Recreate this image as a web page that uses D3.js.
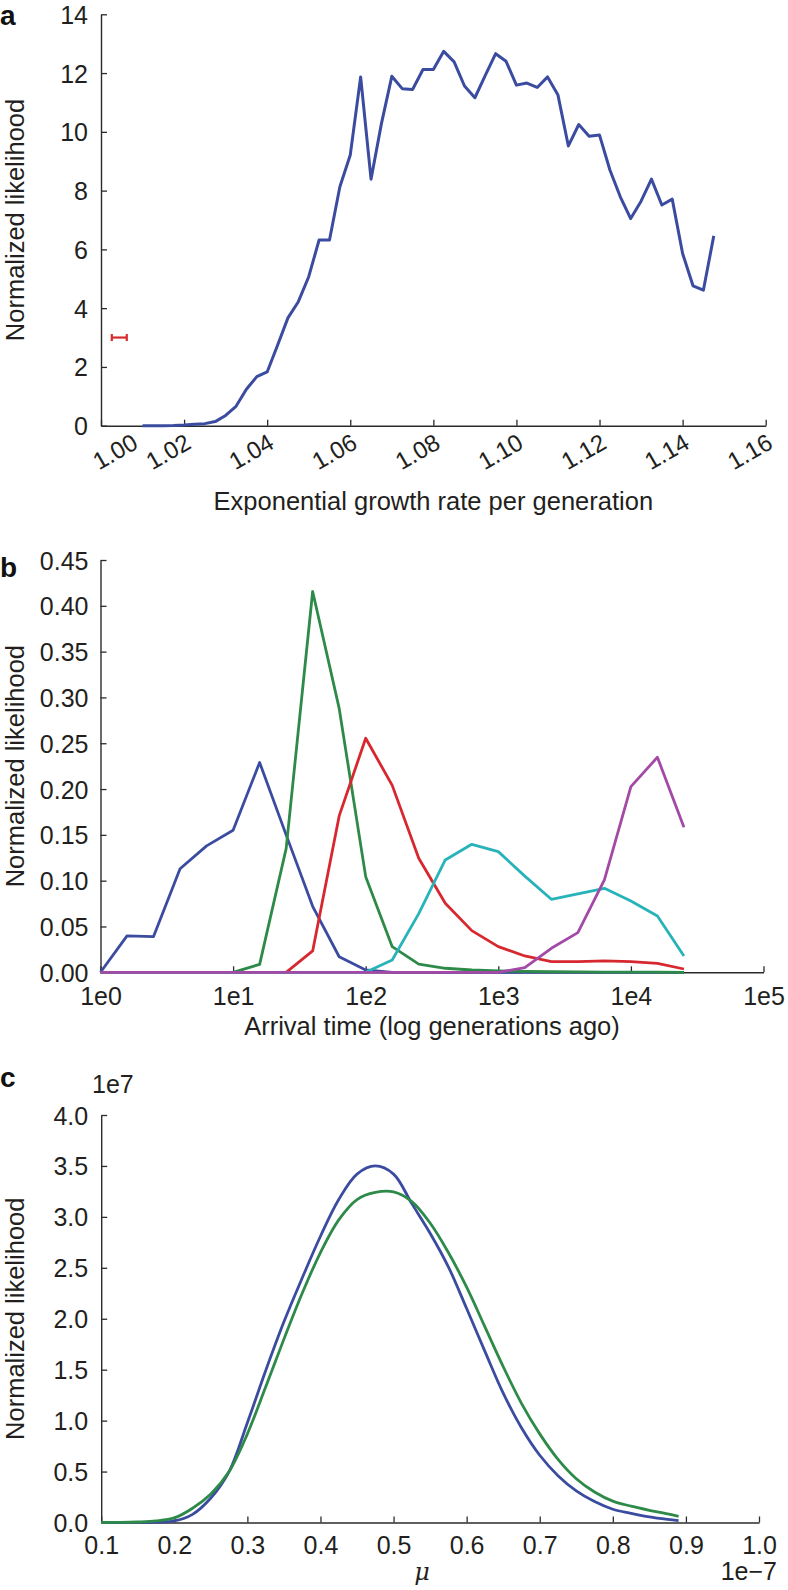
<!DOCTYPE html>
<html><head><meta charset="utf-8">
<script src="https://cdn.jsdelivr.net/npm/d3@7"></script>
<style>
body{margin:0;background:#fff;}
svg{display:block;font-family:"Liberation Sans",Arial,Helvetica,sans-serif;}
</style></head>
<body><svg id="c" width="788" height="1590"></svg>
<script>
// ---------- Panel a data ----------
const growthRate = [1.0100,1.0125,1.0150,1.0175,1.0200,1.0225,1.0250,1.0275,1.0300,1.0325,1.0350,1.0375,1.0400,1.0425,1.0450,1.0475,1.0500,1.0525,1.0550,1.0575,1.0600,1.0625,1.0650,1.0675,1.0700,1.0725,1.0750,1.0775,1.0800,1.0825,1.0850,1.0875,1.0900,1.0925,1.0950,1.0975,1.1000,1.1025,1.1050,1.1075,1.1100,1.1125,1.1150,1.1175,1.1200,1.1225,1.1250,1.1275,1.1300,1.1325,1.1350,1.1375,1.1400,1.1425,1.1450,1.1475];
const growthLikelihood = [0,0,0,0.005,0.02,0.05,0.07,0.14,0.35,0.66,1.24,1.67,1.83,2.74,3.67,4.22,5.07,6.32,6.32,8.13,9.21,11.87,8.39,10.28,11.89,11.47,11.44,12.12,12.12,12.74,12.38,11.56,11.16,11.92,12.66,12.40,11.59,11.66,11.51,11.87,11.25,9.52,10.25,9.85,9.89,8.70,7.79,7.05,7.64,8.39,7.51,7.71,5.86,4.76,4.61,6.46];
const errorBarX = [1.0026, 1.0062];
const errorBarY = 3.0;
const growthTicks = [1.00,1.02,1.04,1.06,1.08,1.10,1.12,1.14,1.16];
const likTicksA = [0,2,4,6,8,10,12,14];

// ---------- Panel b data ----------
const arrivalTime = [1,1.585,2.512,3.981,6.310,10,15.85,25.12,39.81,63.10,100,158.5,251.2,398.1,631.0,1000,1585,2512,3981,6310,10000,15850,25120];
const seriesBlue   = [0,0.0397,0.039,0.113,0.138,0.155,0.229,0.150,0.072,0.017,0.0025,0,0,0,0,0,0,0,0,0,0,0,0];
const seriesGreen  = [0,0,0,0,0,0,0.0087,0.135,0.4156,0.288,0.1044,0.028,0.009,0.0044,0.0025,0.0015,0.001,0.0006,0.0004,0.0003,0.0002,0.0001,0];
const seriesRed    = [0,0,0,0,0,0,0,0,0.0233,0.1707,0.2555,0.204,0.1245,0.0753,0.0455,0.028,0.0178,0.0116,0.0116,0.0124,0.0116,0.0098,0.0036];
const seriesCyan   = [0,0,0,0,0,0,0,0,0,0,0,0.0135,0.064,0.1226,0.1397,0.1317,0.105,0.0797,0.0855,0.0917,0.0779,0.0615,0.0178];
const seriesPurple = [0,0,0,0,0,0,0,0,0,0,0,0,0,0,0,0,0.005,0.0262,0.0433,0.1008,0.2027,0.2347,0.1583];
const arrivalTicks = [1,10,100,1000,10000,100000];
const arrivalTickLabels = ["1e0","1e1","1e2","1e3","1e4","1e5"];
const likTicksB = [0,0.05,0.10,0.15,0.20,0.25,0.30,0.35,0.40,0.45];

// ---------- Panel c data (x in 1e-7, y in 1e7) ----------
const mu = [0.100,0.125,0.150,0.175,0.200,0.225,0.250,0.275,0.300,0.325,0.350,0.375,0.400,0.425,0.450,0.475,0.500,0.525,0.550,0.575,0.600,0.625,0.650,0.675,0.700,0.725,0.750,0.775,0.800,0.825,0.850,0.875,0.890];
const muBlue  = [0,0,0.001,0.004,0.015,0.08,0.24,0.50,0.98,1.49,1.97,2.40,2.81,3.17,3.42,3.50,3.42,3.13,2.84,2.51,2.10,1.68,1.27,0.93,0.66,0.46,0.31,0.205,0.13,0.09,0.055,0.03,0.018];
const muGreen = [0,0.001,0.005,0.015,0.045,0.14,0.28,0.50,0.87,1.33,1.80,2.25,2.65,2.97,3.17,3.24,3.245,3.15,2.94,2.65,2.31,1.92,1.53,1.17,0.87,0.62,0.43,0.30,0.21,0.16,0.12,0.085,0.06];
const muTicks = [0.1,0.2,0.3,0.4,0.5,0.6,0.7,0.8,0.9,1.0];
const likTicksC = [0,0.5,1.0,1.5,2.0,2.5,3.0,3.5,4.0];

// ---------- styles ----------
const C = {blue:"#3b4ca0", green:"#2e8a48", red:"#d7282f", cyan:"#28b3ba", purple:"#a24aa6", axis:"#2b2b2b", text:"#231f20"};
const tickFont = 25, labelFont = 25.5, letterFont = 28;

const svg = d3.select("#c");

function styleAxis(g){
  g.select(".domain").attr("stroke", C.axis).attr("stroke-width", 1.4);
  g.selectAll(".tick line").attr("stroke", C.axis).attr("stroke-width", 1.3);
  g.selectAll(".tick text").attr("fill", C.text).style("font-size", tickFont+"px");
}
function yLabel(cy, txt){
  svg.append("text").attr("transform", `translate(24,${cy}) rotate(-90)`)
    .attr("text-anchor","middle").attr("fill",C.text).style("font-size",labelFont+"px").text(txt);
}
function letter(x,y,t){
  svg.append("text").attr("x",x).attr("y",y).attr("fill","#111").style("font-size",letterFont+"px").style("font-weight","bold").text(t);
}

// ================= Panel a =================
{
  const x = d3.scaleLinear().domain([1.00,1.16]).range([101,765.7]);
  const y = d3.scaleLinear().domain([0,14]).range([425.7,14.3]);
  const gx = svg.append("g").attr("transform",`translate(0,${y(0)})`)
    .call(d3.axisBottom(x).tickValues(growthTicks).tickFormat(d3.format(".2f")).tickSizeInner(-6).tickSizeOuter(0));
  styleAxis(gx);
  gx.selectAll(".tick text").attr("text-anchor","end").attr("x",0).attr("y",0).attr("dy",0)
    .style("font-size","24px")
    .attr("transform",(d,i)=>`translate(${i===0?38:8},21.5) rotate(-30)`);
  const gy = svg.append("g").attr("transform",`translate(${x(1.00)},0)`)
    .call(d3.axisLeft(y).tickValues(likTicksA).tickFormat(d3.format("d")).tickSizeInner(-6).tickSizeOuter(0).tickPadding(13));
  styleAxis(gy);
  gy.selectAll(".tick text").attr("dy","0.36em");

  const line = d3.line().x((d,i)=>x(growthRate[i])).y(d=>y(d));
  svg.append("path").datum(growthLikelihood).attr("d",line).attr("fill","none")
    .attr("stroke",C.blue).attr("stroke-width",3).attr("stroke-linejoin","round");

  // error bar
  const eb = svg.append("g").attr("stroke","#d62b2b").attr("stroke-width",2.2);
  eb.append("line").attr("x1",x(errorBarX[0])).attr("x2",x(errorBarX[1])).attr("y1",y(errorBarY)).attr("y2",y(errorBarY));
  errorBarX.forEach(v=>eb.append("line").attr("x1",x(v)).attr("x2",x(v)).attr("y1",y(errorBarY)-3.5).attr("y2",y(errorBarY)+3.5));

  svg.append("text").attr("x",(x.range()[0]+x.range()[1])/2).attr("y",510).attr("text-anchor","middle")
    .attr("fill",C.text).style("font-size",labelFont+"px").text("Exponential growth rate per generation");
  yLabel((y(0)+y(14))/2, "Normalized likelihood");
  letter(0,25,"a");
}

// ================= Panel b =================
{
  const x = d3.scaleLog().domain([1,100000]).range([100.5,763.5]);
  const y = d3.scaleLinear().domain([0,0.45]).range([972.3,560]);
  const gx = svg.append("g").attr("transform",`translate(0,${y(0)})`)
    .call(d3.axisBottom(x).tickValues(arrivalTicks).tickFormat((d,i)=>arrivalTickLabels[i]).tickSizeInner(-6).tickSizeOuter(0));
  styleAxis(gx);
  gx.selectAll(".tick text").attr("y",33).attr("dy",0);
  const gy = svg.append("g").attr("transform",`translate(${x(1)},0)`)
    .call(d3.axisLeft(y).tickValues(likTicksB).tickFormat(d3.format(".2f")).tickSizeInner(-6).tickSizeOuter(0).tickPadding(12));
  styleAxis(gy);
  gy.selectAll(".tick text").attr("dy","0.36em");

  const line = d3.line().x((d,i)=>x(arrivalTime[i])).y(d=>y(d));
  [[seriesBlue,C.blue],[seriesGreen,C.green],[seriesRed,C.red],[seriesCyan,C.cyan],[seriesPurple,C.purple]].forEach(([s,c])=>{
    svg.append("path").datum(s).attr("d",line).attr("fill","none").attr("stroke",c).attr("stroke-width",2.8).attr("stroke-linejoin","round");
  });

  svg.append("text").attr("x",(x.range()[0]+x.range()[1])/2).attr("y",1035).attr("text-anchor","middle")
    .attr("fill",C.text).style("font-size",labelFont+"px").text("Arrival time (log generations ago)");
  yLabel((y(0)+y(0.45))/2, "Normalized likelihood");
  letter(0,577,"b");
}

// ================= Panel c =================
{
  const x = d3.scaleLinear().domain([0.1,1.0]).range([101.2,759]);
  const y = d3.scaleLinear().domain([0,4.0]).range([1522.5,1115]);
  const gx = svg.append("g").attr("transform",`translate(0,${y(0)})`)
    .call(d3.axisBottom(x).tickValues(muTicks).tickFormat(d3.format(".1f")).tickSizeInner(-6).tickSizeOuter(0));
  styleAxis(gx);
  gx.selectAll(".tick text").attr("y",31).attr("dy",0);
  const gy = svg.append("g").attr("transform",`translate(${x(0.1)},0)`)
    .call(d3.axisLeft(y).tickValues(likTicksC).tickFormat(d3.format(".1f")).tickSizeInner(-6).tickSizeOuter(0).tickPadding(13));
  styleAxis(gy);
  gy.selectAll(".tick text").attr("dy","0.36em");

  const line = d3.line().x((d,i)=>x(mu[i])).y(d=>y(d)).curve(d3.curveCatmullRom.alpha(0.5));
  [[muBlue,C.blue],[muGreen,C.green]].forEach(([s,c])=>{
    svg.append("path").datum(s).attr("d",line).attr("fill","none").attr("stroke",c).attr("stroke-width",2.8);
  });

  svg.append("text").attr("x",92).attr("y",1093).attr("fill",C.text).style("font-size",tickFont+"px").text("1e7");
  svg.append("text").attr("x",777).attr("y",1580).attr("text-anchor","end").attr("fill",C.text).style("font-size",tickFont+"px").text("1e\u22127");
  svg.append("text").attr("x",422).attr("y",1580).attr("text-anchor","middle").attr("fill",C.text)
    .style("font-size","24px").style("font-style","italic").style("font-family","'DejaVu Serif','Liberation Serif',serif").text("\u03bc");
  yLabel((y(0)+y(4))/2, "Normalized likelihood");
  letter(0,1087,"c");
}
</script></body></html>
